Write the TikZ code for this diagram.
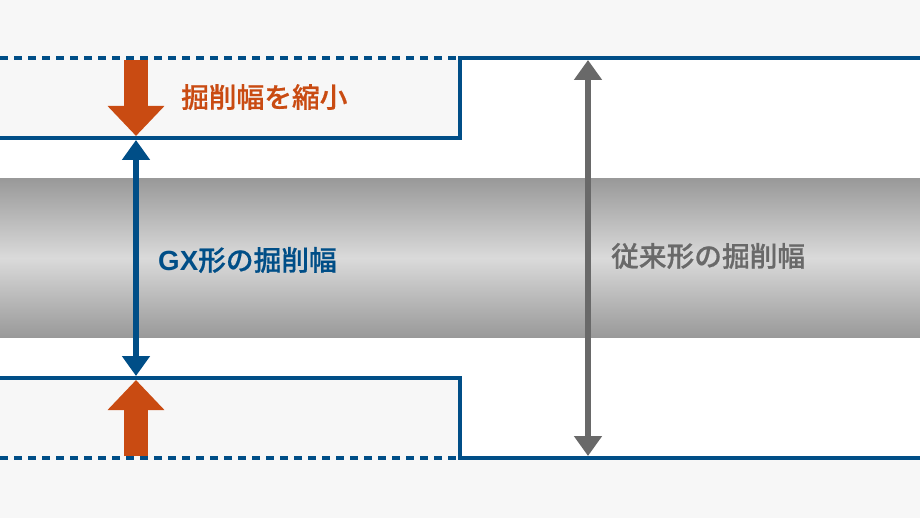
\documentclass[tikz,border=0pt]{standalone}
\usepackage{fontspec}
\setmainfont[FakeBold=0.6]{Noto Sans CJK JP Medium}
\newfontfamily\latinfont{Liberation Sans Bold}
\usetikzlibrary{arrows.meta,positioning}
\definecolor{gxblue}{HTML}{004E87}
\definecolor{cutorange}{HTML}{C94B12}
\definecolor{oldgray}{HTML}{696969}
\definecolor{panelgray}{HTML}{F7F7F7}
\definecolor{bandgray}{HTML}{999999}
\definecolor{bandlight}{HTML}{DADADA}

\begin{document}
\begin{tikzpicture}[
		x = 1pt, y = -1pt,
		wall/.style = {draw = gxblue, line width = 4pt, miter limit = 10},
		dashwall/.style = {draw = gxblue, line width = 4pt, dash pattern = on 8pt off 6pt},
		bigarrow/.style = {draw = cutorange, line width = 24pt, -{Triangle[length = 30pt, width = 55pt]}},
		gxarrow/.style = {draw = gxblue, line width = 6pt, {Triangle[length = 20pt, width = 27pt]}-{Triangle[length = 20pt, width = 27pt]}},
		oldarrow/.style = {draw = oldgray, line width = 6pt, {Triangle[length = 20pt, width = 27pt]}-{Triangle[length = 20pt, width = 27pt]}},
		lbl/.style = {font = \fontsize{27.7pt}{30pt}\selectfont, inner sep = 0pt, anchor = west}
		]
\useasboundingbox (0,0) rectangle (920,518);
\fill[panelgray] (0,0) rectangle (920,518);
\fill[white] (0,138) -- (460,138) -- (460,58) -- (920,58) -- (920,458) -- (460,458) -- (460,378) -- (0,378) -- cycle;
\shade[top color = bandgray, bottom color = bandgray, middle color = bandlight] (0,178.5) rectangle (920,337.5);

\coordinate (topa) at (0,138);
\coordinate (topb) at (460,138);
\coordinate (topc) at (460,58);
\coordinate (topd) at (920,58);
\coordinate (topl) at (0,58);
\coordinate (lowa) at (0,378);
\coordinate (lowb) at (460,378);
\coordinate (lowc) at (460,458);
\coordinate (lowd) at (920,458);
\coordinate (lowl) at (0,458);

\draw[dashwall] (topl) -- (topc);
\draw[dashwall] (lowl) -- (lowc);
\draw[wall] (topa) -- (topb) -- (topc) -- (topd);
\draw[wall] (lowa) -- (lowb) -- (lowc) -- (lowd);

\coordinate (cuttop) at (136,60);
\coordinate (cutmid) at (136,136);
\coordinate (cutlow) at (136,456);
\coordinate (cuttip) at (136,380);
\draw[bigarrow] (cuttop) -- (cutmid);
\draw[bigarrow] (cutlow) -- (cuttip);

\coordinate (gxtop) at (136,140);
\coordinate (gxlow) at (136,376);
\draw[gxarrow] (gxtop) -- (gxlow);

\coordinate (oldtop) at (588,60);
\coordinate (oldlow) at (588,456);
\draw[oldarrow] (oldtop) -- (oldlow);

\node[lbl, text = cutorange] (cutlabel) at (181,97) {掘削幅を縮小};
\node[lbl, text = gxblue] (gxlabel) at (158,260) {{\latinfont GX}形の掘削幅};
\node[lbl, text = oldgray] (oldlabel) at (611,256) {従来形の掘削幅};

\end{tikzpicture}
\end{document}
